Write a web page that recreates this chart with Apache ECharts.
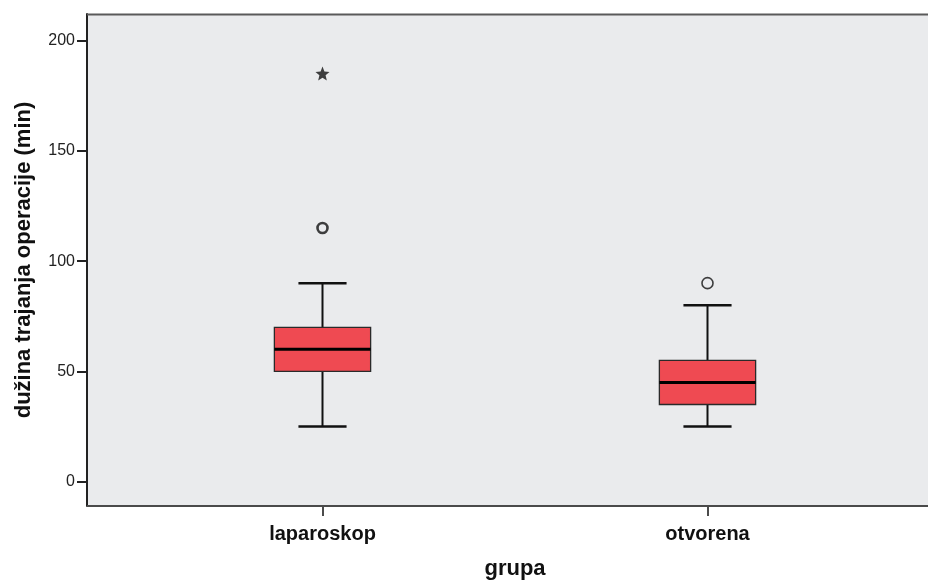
<!DOCTYPE html>
<html>
<head>
<meta charset="utf-8">
<script src="https://cdn.jsdelivr.net/npm/echarts@6/dist/echarts.min.js"></script>
<style>
  html, body { margin: 0; padding: 0; background: #fff; }
</style>
</head>
<body>
<div id="chart" style="width: 928px; height: 583px;"></div>
<script>
// podaci
var categories = ['laparoskop', 'otvorena'];
var whiskerLow = [25, 25];
var q1 = [50, 35];
var median = [60, 45];
var q3 = [70, 55];
var whiskerHigh = [90, 80];
var outliers = [[0, 115], [1, 90]];   // krug
var extremes = [[0, 185]];            // zvjezdica
var yTicks = [0, 50, 100, 150, 200];

var boxData = categories.map(function (c, i) {
    return [i, whiskerLow[i], q1[i], median[i], q3[i], whiskerHigh[i]];
});

var starPath = 'path://M50,0 L62.93,32.2 L97.55,34.55 L70.92,56.8 L79.39,90.45 L50,72 L20.61,90.45 L29.08,56.8 L2.45,34.55 L37.07,32.2 Z';
var font = '"Liberation Sans", Arial, sans-serif';

var myChart = echarts.init(document.getElementById('chart'));
myChart.setOption({
    animation: false,
    backgroundColor: '#ffffff',
    grid: { left: 130, right: 28, top: 14, bottom: 77, containLabel: false, outerBoundsMode: 'none' },
    graphic: [
        {   // pozadina
            type: 'rect', z: -10, silent: true,
            shape: { x: 87, y: 14, width: 841, height: 492 },
            style: { fill: '#eaebed' }
        },
        {
            type: 'line', z: 10, silent: true,
            shape: { x1: 87, y1: 14.5, x2: 928, y2: 14.5 },
            style: { stroke: '#5a5a5a', lineWidth: 2 }
        },
        {
            type: 'line', z: 10, silent: true,
            shape: { x1: 87, y1: 506, x2: 928, y2: 506 },
            style: { stroke: '#4a4a4a', lineWidth: 2 }
        }
    ],
    xAxis: {
        type: 'category',
        data: categories,
        boundaryGap: true,
        name: 'grupa',
        nameLocation: 'middle',
        nameGap: 52,
        nameTextStyle: { fontFamily: font, fontSize: 22, fontWeight: 'bold', color: '#111' },
        axisLine: { show: false, onZero: false },
        axisTick: { show: true, alignWithLabel: true, length: 10, lineStyle: { color: '#111', width: 1.5 } },
        axisLabel: { margin: 18, fontFamily: font, fontSize: 20, fontWeight: 'bold', color: '#111' },
        splitLine: { show: false }
    },
    yAxis: {
        type: 'value',
        min: -11,
        max: 212,
        offset: 43,
        name: 'dužina trajanja operacije (min)',
        nameLocation: 'middle',
        nameGap: 52,
        nameTextStyle: { fontFamily: font, fontSize: 22, fontWeight: 'bold', color: '#111' },
        axisLine: { show: true, lineStyle: { color: '#222', width: 2 } },
        axisTick: { show: true, length: 10, customValues: yTicks, lineStyle: { color: '#222', width: 2 } },
        axisLabel: { margin: 12, customValues: yTicks, fontFamily: font, fontSize: 16, color: '#222' },
        splitLine: { show: false }
    },
    series: [
        {
            type: 'custom',
            z: 5,
            data: boxData,
            encode: { x: 0, y: [1, 2, 3, 4, 5] },
            renderItem: function (params, api) {
                var idx = api.value(0);
                var low = api.coord([idx, api.value(1)]);
                var b1 = api.coord([idx, api.value(2)]);
                var med = api.coord([idx, api.value(3)]);
                var b3 = api.coord([idx, api.value(4)]);
                var high = api.coord([idx, api.value(5)]);
                var band = api.size([1, 0])[0];
                var half = band * 0.125;
                var cap = half / 2;
                var cx = med[0];
                var lineStyle = { stroke: '#111', lineWidth: 2 };
                return {
                    type: 'group',
                    children: [
                        { type: 'line', shape: { x1: cx, y1: high[1], x2: cx, y2: b3[1] }, style: lineStyle },
                        { type: 'line', shape: { x1: cx, y1: b1[1], x2: cx, y2: low[1] }, style: lineStyle },
                        { type: 'line', shape: { x1: cx - cap, y1: high[1], x2: cx + cap, y2: high[1] }, style: { stroke: '#111', lineWidth: 2.5 } },
                        { type: 'line', shape: { x1: cx - cap, y1: low[1], x2: cx + cap, y2: low[1] }, style: { stroke: '#111', lineWidth: 2.5 } },
                        {
                            type: 'rect',
                            shape: { x: cx - half, y: b3[1], width: half * 2, height: b1[1] - b3[1] },
                            style: { fill: '#ef4a52', stroke: '#2a2a2a', lineWidth: 1.3 }
                        },
                        { type: 'line', shape: { x1: cx - half, y1: med[1], x2: cx + half, y2: med[1] }, style: { stroke: '#000', lineWidth: 3 } }
                    ]
                };
            }
        },
        {
            type: 'scatter',
            z: 6,
            symbol: 'circle',
            symbolSize: 10,
            itemStyle: { color: '#eaebed', borderColor: '#111', borderWidth: 1.6 },
            data: outliers.map(function (p, i) {
                return {
                    value: p,
                    symbolSize: i === 0 ? 10 : 11,
                    itemStyle: { borderWidth: i === 0 ? 2.6 : 1.6 }
                };
            })
        },
        {
            type: 'scatter',
            z: 6,
            symbol: starPath,
            symbolSize: 14,
            itemStyle: { color: '#111' },
            data: extremes
        }
    ]
});
</script>
</body>
</html>
